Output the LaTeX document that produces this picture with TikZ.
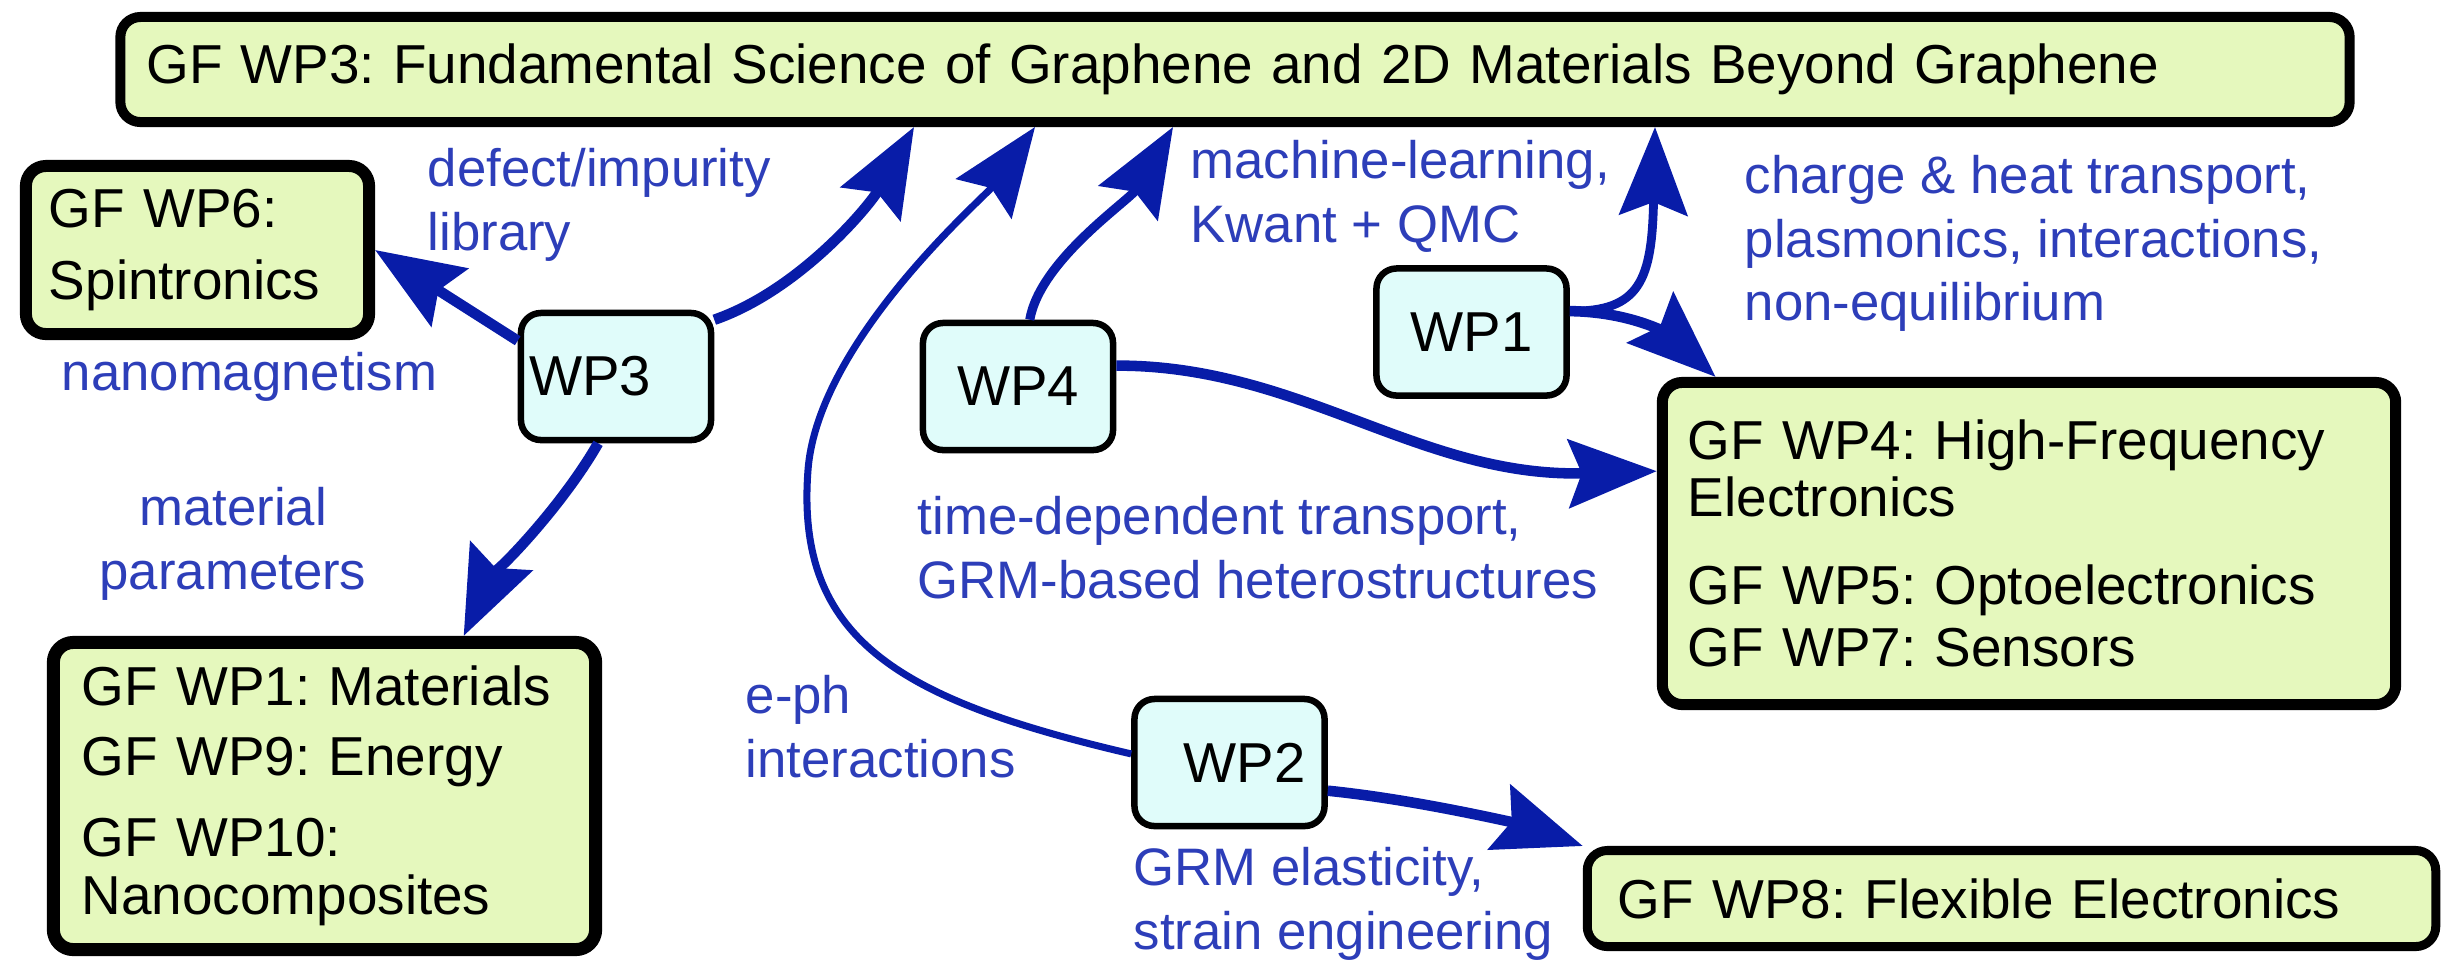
\documentclass[tikz,border=0pt]{standalone}
\usepackage{fontspec}
\setmainfont{Liberation Sans}
\usetikzlibrary{arrows.meta}
\frenchspacing
\hyphenpenalty=10000
\definecolor{boxgreen}{RGB}{229,248,189}
\definecolor{boxcyan}{RGB}{224,252,250}
\definecolor{arrblue}{RGB}{8,28,168}
\definecolor{labblue}{RGB}{45,62,185}
\tikzset{
  gbox/.style={draw=black, fill=boxgreen, rounded corners=0.2cm, align=left, inner ysep=0pt},
  wpbox/.style={draw=black, fill=boxcyan, line width=0.065cm, rounded corners=0.2cm,
    minimum width=1.9cm, minimum height=1.27cm, inner sep=0pt,
    font=\fontsize{16}{19}\selectfont},
  lab/.style={text=labblue, align=left, inner sep=0pt, anchor=north west,
    font=\fontsize{15}{18}\selectfont},
  arr/.style={draw=arrblue, line width=3pt,
    -{Stealth[length=0.88cm,width=0.68cm,inset=0.13cm]}},
  thinarr/.style={arr, line width=2pt},
}
\begin{document}
\begin{tikzpicture}[x=0.01cm,y=-0.01cm]
\useasboundingbox (0,0) rectangle (2454,959);
% boxes
\node[gbox, line width=0.1cm, text width=21.76cm, inner xsep=0.26cm, minimum height=1.05cm,
  font=\fontsize{15.6}{19}\selectfont] (top) at (1235,69.5)
  {GF WP3: Fundamental Science of Graphene and 2D Materials Beyond Graphene};
\node[gbox, line width=0.12cm, text width=2.97cm, inner xsep=0.23cm, minimum height=1.68cm,
  font=\fontsize{15.6}{19}\selectfont] (wp6) at (197.5,250)
  {GF WP6:\\[1.5pt]Spintronics};
\node[gbox, line width=0.13cm, text width=4.95cm, inner xsep=0.235cm, minimum height=3.07cm,
  font=\fontsize{15.6}{16.5}\selectfont] (lbox) at (324.5,796)
  {\hspace*{0.05cm}GF WP1: Materials\\[3.4pt]\hspace*{0.05cm}GF WP9: Energy\\[6.5pt]\hspace*{0.05cm}GF WP10:\\\hspace*{0.05cm}Nanocomposites};
\node[gbox, line width=0.11cm, text width=6.82cm, inner xsep=0.255cm, minimum height=3.22cm,
  font=\fontsize{15.6}{16}\selectfont] (hf) at (2029,543.5)
  {GF WP4: High-Frequency\\Electronics\\[9pt]GF WP5: Optoelectronics\\[1.7pt]GF WP7: Sensors\\[-8pt]};
\node[gbox, line width=0.09cm, text width=7.87cm, inner xsep=0.305cm, minimum height=0.96cm,
  font=\fontsize{15.6}{19}\selectfont] (wp8) at (2011.5,898.5)
  {GF WP8: Flexible Electronics};
% WP nodes
\node[wpbox] (wp3) at (616,376.5) {WP3\hspace*{0.52cm}};
\node[wpbox] (wp4) at (1018,386.5) {WP4};
\node[wpbox] (wp1) at (1471.5,332) {WP1};
\node[wpbox] (wp2) at (1229.5,762.5) {\hspace*{0.3cm}WP2};
% labels
\node[lab] (l1) at (427,148) {defect/impurity\\library};
\node[lab] (l2) at (61,352) {nanomagnetism};
\node[lab] (l3) at (1190,140) {machine-learning,\\Kwant + QMC};
\node[lab] (l4) at (1744,155) {charge \& heat transport,\\plasmonics, interactions,\\non-equilibrium};
\node[lab, anchor=north, align=center] (l5) at (233,487) {material\\parameters};
\node[lab] (l6) at (917,496) {time-dependent transport,\\GRM-based heterostructures};
\node[lab] (l7) at (745,675) {e-ph\\interactions};
\node[lab] (l8) at (1133,847) {GRM elasticity,\\strain engineering};
% arrow end points on the top box
\coordinate (t1) at (914,127);
\coordinate (t2) at (1035,127);
\coordinate (t3) at (1173,127);
\coordinate (t4) at (1655,127);
\coordinate (c2) at (808,470);
% connectors
\draw[arr] (wp3.160) -- (wp6.east);
\draw[arr] (wp3.30) .. controls (800,290) and (870,205) .. (t1);
\draw[arr] (wp3.-105) .. controls (560,510) and (490,580) .. (lbox.49);
\draw[thinarr, line width=2.6pt] (wp4.80) .. controls (1040,260) and (1130,200) .. (t3);
\draw[arr] (wp4.12) .. controls (1300,365) and (1420,478) .. (hf.169);
\draw[thinarr, line width=2pt] (wp2.175) .. controls (900,700) and (795,640) .. (c2)
  .. controls (818,340) and (985,197) .. (t2);
\draw[arr] (wp2.-16) .. controls (1420,800) and (1522,825) .. (wp8.north west);
\draw[thinarr, line width=2.5pt] (wp1.12) .. controls (1640,312) and (1652,280) .. (t4);
\draw[arr] (wp1.12) .. controls (1640,312) and (1675,340) .. (hf.152);
\end{tikzpicture}
\end{document}
